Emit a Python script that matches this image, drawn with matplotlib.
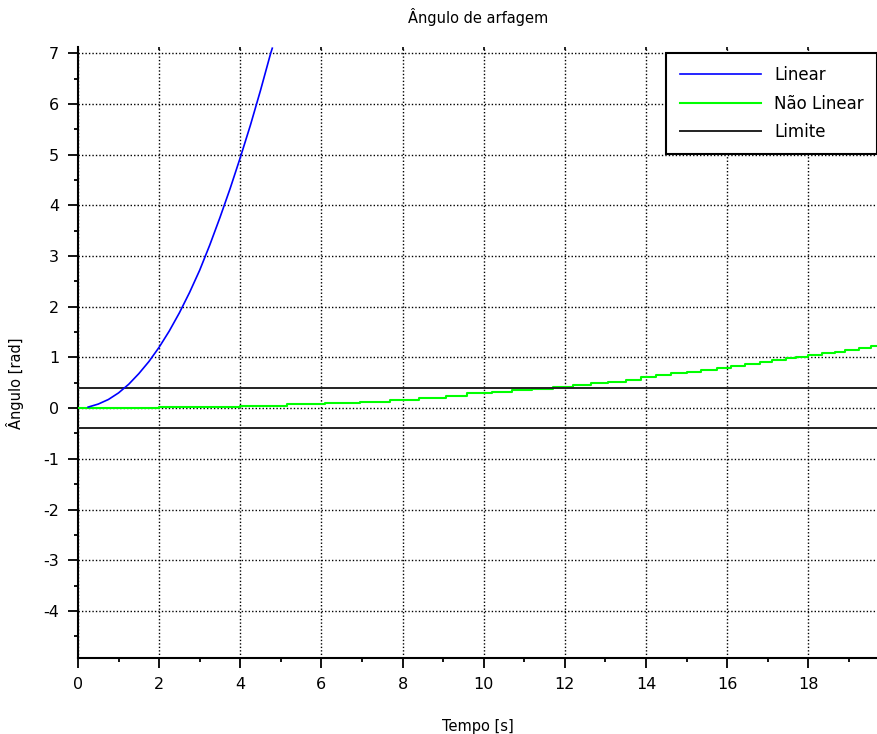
import numpy as np
import matplotlib
matplotlib.use('Agg')
import matplotlib.pyplot as plt
from matplotlib.ticker import MultipleLocator

plt.rcParams['axes.unicode_minus'] = False

# Linear model response
t_linear = [0.25, 0.5, 0.75, 1.0, 1.25, 1.5, 1.75, 2.0, 2.25, 2.5, 2.75, 3.0,
            3.25, 3.5, 3.75, 4.0, 4.25, 4.5, 4.75, 4.79]
ang_linear = [0.02, 0.08, 0.17, 0.30, 0.47, 0.68, 0.92, 1.2, 1.52, 1.88, 2.28, 2.72,
              3.22, 3.76, 4.33, 4.94, 5.58, 6.27, 7.0, 7.1]

# Non linear model response (zero-order-hold steps)
t_nonlinear = [0.0, 2.0, 4.0, 5.15, 6.1, 6.95, 7.7, 8.4, 9.06, 9.6, 10.2, 10.7,
               11.2, 11.7, 12.2, 12.65, 13.06, 13.5, 13.88, 14.25, 14.62, 15.0,
               15.36, 15.76, 16.1, 16.43, 16.8, 17.1, 17.45, 17.7, 18.0, 18.35,
               18.65, 18.9, 19.25, 19.55, 19.75]
ang_nonlinear = [0.0, 0.025, 0.05, 0.075, 0.10, 0.13, 0.16, 0.20, 0.24, 0.29, 0.32, 0.355,
                 0.38, 0.41, 0.45, 0.49, 0.52, 0.55, 0.62, 0.65, 0.69, 0.72,
                 0.76, 0.80, 0.83, 0.87, 0.91, 0.94, 0.98, 1.01, 1.04, 1.08,
                 1.11, 1.15, 1.19, 1.23, 1.23]

limite = 0.4

fig = plt.figure(figsize=(8.78, 7.34), dpi=100)
ax = fig.add_axes([0.0888, 0.1035, 0.9112, 0.8329])

ax.plot(t_nonlinear, ang_nonlinear, color='#00ff00', lw=1.5,
        drawstyle='steps-post', label='Não Linear', zorder=3)
ax.plot(t_linear, ang_linear, color='#0000ff', lw=1.2, label='Linear', zorder=4)
ax.axhline(limite, color='#222222', lw=1.4, label='Limite', zorder=3.5)
ax.axhline(-limite, color='#222222', lw=1.4, zorder=3.5)

ax.set_xlim(0, 19.72)
ax.set_ylim(-4.93, 7.13)

ax.xaxis.set_major_locator(MultipleLocator(2))
ax.xaxis.set_minor_locator(MultipleLocator(1))
ax.yaxis.set_minor_locator(MultipleLocator(0.5))
ax.set_yticks(np.arange(-4, 8, 1))

ax.grid(True, which='major', color='black', linestyle=(0, (1, 1.5)), lw=1.0)

for side in ['top', 'right']:
    ax.spines[side].set_visible(False)
for side in ['left', 'bottom']:
    ax.spines[side].set_linewidth(1.5)
    ax.spines[side].set_color('black')

ax.tick_params(which='major', length=7.5, width=1.3, labelsize=11.5, pad=6)
ax.tick_params(which='minor', length=3, width=1.3)

# small tick marks along the top edge
top = ax.secondary_xaxis('top')
top.xaxis.set_major_locator(MultipleLocator(2))
top.tick_params(length=2.5, width=1.2, direction='in', labeltop=False)
top.spines['top'].set_visible(False)

ax.set_title('Ângulo de arfagem', fontsize=10.5, pad=17)
ax.set_xlabel('Tempo [s]', fontsize=10.5)
ax.set_ylabel('Ângulo [rad]', fontsize=10.5)
ax.xaxis.set_label_coords(0.5, -0.10)
ax.yaxis.set_label_coords(-0.068, 0.45)

handles, labels = ax.get_legend_handles_labels()
order = [1, 0, 2]
leg = ax.legend([handles[i] for i in order], [labels[i] for i in order],
                loc='upper right', bbox_to_anchor=(0.999, 0.99), borderaxespad=0,
                fancybox=False, framealpha=1, edgecolor='black', fontsize=12,
                handlelength=4.9, handletextpad=0.78, labelspacing=0.63,
                borderpad=0.8)
leg.get_frame().set_linewidth(1.5)
leg.set_zorder(10)

fig.savefig('out.png', dpi=100)
